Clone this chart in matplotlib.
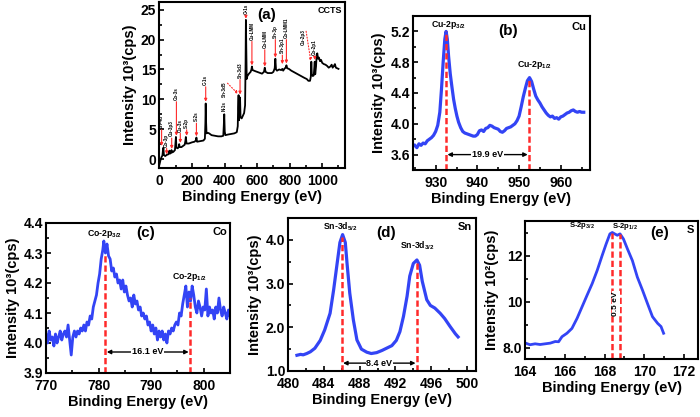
import matplotlib
matplotlib.use('Agg')
import matplotlib.pyplot as plt
import numpy as np
from matplotlib.ticker import AutoMinorLocator, FormatStrFormatter

# ---- data ----
# (a) survey spectrum, binding energy (eV) / intensity (10^3 cps)
survey_e = [0, 6, 12, 18, 21, 24, 27, 35, 45, 55, 58, 61, 64, 70, 74, 77, 85, 95, 98, 101,
            104, 112, 118, 121, 124, 135, 145, 155, 159, 162, 166, 180, 200, 215, 223, 227,
            231, 250, 270, 279, 282, 284, 286, 289, 296, 305, 320, 340, 360, 380, 392, 395,
            398, 401, 405, 420, 440, 460, 475, 481, 483, 486, 489, 492, 495, 498, 505, 512,
            520, 526, 529, 531, 533, 536, 540, 550, 560, 565, 568, 572, 590, 610, 630, 642,
            647, 652, 665, 690, 700, 708, 712, 716, 722, 735, 748, 755, 760, 770, 776, 780,
            785, 795, 810, 830, 850, 870, 890, 905, 915, 925, 930, 933, 936, 942, 948, 952,
            954, 957, 962, 966, 970, 974, 980, 986, 993, 1000, 1010, 1020, 1030, 1040, 1050,
            1058, 1064, 1072, 1078, 1084, 1092, 1100]
survey_i = [-0.9, -0.2, 0.3, 0.6, 1.4, 1.9, 0.7, 0.5, 0.7, 0.8, 1.1, 1.4, 0.9, 1.0, 1.5, 1.1,
            1.2, 1.5, 2.5, 3.7, 1.9, 1.8, 2.0, 2.5, 2.0, 2.0, 2.2, 2.4, 3.0, 3.7, 2.6, 2.6, 2.8,
            2.9, 3.1, 3.6, 2.9, 3.0, 3.1, 3.4, 6.0, 9.3, 6.5, 4.3, 4.4, 4.3, 4.0, 3.9, 3.8, 3.8,
            3.9, 5.5, 7.5, 4.6, 4.0, 4.1, 4.2, 4.3, 4.5, 5.5, 8.5, 10.7, 6.5, 8.0, 10.3, 7.0,
            6.8, 7.2, 7.7, 9.0, 16.0, 23.3, 19.0, 13.4, 13.9, 14.3, 14.6, 15.0, 15.5, 14.9,
            14.7, 14.5, 14.3, 14.6, 15.3, 14.6, 14.4, 14.4, 14.6, 15.2, 16.8, 15.0, 14.8, 15.0,
            14.9, 15.1, 14.8, 15.2, 15.3, 15.7, 15.2, 15.1, 14.8, 14.5, 14.2, 13.9, 13.6, 13.4,
            13.1, 13.1, 13.8, 16.3, 14.2, 13.9, 14.0, 15.5, 16.3, 14.2, 15.5, 17.5, 17.7, 16.8,
            17.0, 16.4, 16.6, 16.1, 15.9, 15.8, 15.6, 15.3, 15.5, 15.8, 15.3, 15.6, 15.9, 15.3,
            15.2, 15.1]

peak_names = ['Sn-4d', 'Co-3p', 'Cu-3p3', 'Co-3s', 'Cu-3s', 'S-2p', 'S-2s', 'C-1s', 'N-1s',
              'Sn-3d5', 'Sn-3d3', 'O-1s', 'Cu-LMM', 'Co-LMM', 'Sn-3p', 'Sn-3p1', 'Co-LMM1',
              'Cu-2p3', 'Co-2p1']
peak_pos = [24, 61, 74, 101, 121, 162, 227, 284, 398, 486, 495, 531, 568, 647, 712, 755, 780,
            933, 954]

# (b) Cu 2p
cu_e = [925.0, 925.5, 926.0, 926.5, 927.0, 927.5, 928.0, 928.5, 929.0, 929.5, 930.0, 930.5,
        931.0, 931.4, 931.8, 932.2, 932.5, 932.8, 933.1, 933.5, 933.9, 934.3, 934.7, 935.1,
        935.5, 936.0, 936.5, 937.0, 937.5, 938.0, 938.5, 939.0, 939.5, 940.0, 940.5, 941.0,
        941.5, 942.0, 942.5, 943.0, 943.5, 944.0, 944.5, 945.0, 945.5, 946.0, 946.5, 947.0,
        947.5, 948.0, 948.5, 949.0, 949.5, 950.0, 950.5, 951.0, 951.5, 952.0, 952.5, 953.0,
        953.5, 954.0, 954.5, 955.0, 955.5, 956.0, 956.5, 957.0, 957.5, 958.0, 958.5, 959.0,
        959.5, 960.0, 960.5, 961.0, 961.5, 962.0, 962.5, 963.0, 963.5, 964.0, 964.5, 965.0,
        965.5]
cu_i = [3.72, 3.69, 3.74, 3.72, 3.75, 3.74, 3.78, 3.80, 3.82, 3.85, 3.90, 3.98, 4.15, 4.45,
        4.80, 5.10, 5.20, 5.10, 4.88, 4.65, 4.48, 4.32, 4.20, 4.10, 4.02, 3.95, 3.90, 3.88,
        3.87, 3.86, 3.85, 3.84, 3.84, 3.86, 3.91, 3.92, 3.90, 3.94, 3.95, 3.98, 3.97, 3.95,
        3.94, 3.93, 3.90, 3.89, 3.91, 3.94, 3.95, 3.96, 3.98, 4.00, 4.04, 4.10, 4.22, 4.35,
        4.46, 4.56, 4.60, 4.55, 4.45, 4.36, 4.31, 4.27, 4.22, 4.18, 4.14, 4.11, 4.09, 4.10,
        4.07, 4.08, 4.06, 4.09, 4.10, 4.12, 4.14, 4.15, 4.17, 4.18, 4.16, 4.15, 4.16, 4.15,
        4.15]
cu_peaks = [932.5, 952.4]

# (c) Co 2p
co_e = [770.0, 770.3, 770.6, 770.9, 771.2, 771.5, 771.8, 772.1, 772.4, 772.7, 773.0, 773.3,
        773.6, 773.9, 774.2, 774.5, 774.8, 775.1, 775.4, 775.7, 776.0, 776.3, 776.6, 776.9,
        777.2, 777.5, 777.8, 778.1, 778.4, 778.7, 779.0, 779.3, 779.6, 779.9, 780.2, 780.5,
        780.8, 781.0, 781.3, 781.6, 781.9, 782.2, 782.5, 782.8, 783.1, 783.4, 783.7, 784.0,
        784.3, 784.6, 784.9, 785.2, 785.5, 785.8, 786.1, 786.4, 786.7, 787.0, 787.3, 787.6,
        787.9, 788.2, 788.5, 788.8, 789.1, 789.4, 789.7, 790.0, 790.3, 790.6, 790.9, 791.2,
        791.5, 791.8, 792.1, 792.4, 792.7, 793.0, 793.3, 793.6, 793.9, 794.2, 794.5, 794.8,
        795.1, 795.4, 795.7, 796.0, 796.3, 796.6, 796.9, 797.2, 797.5, 797.8, 798.1, 798.4,
        798.7, 799.0, 799.3, 799.6, 799.9, 800.2, 800.5, 800.8, 801.1, 801.4, 801.7, 802.0,
        802.3, 802.6, 802.9, 803.2, 803.5, 803.8, 804.1, 804.4, 804.7, 805.0]
co_i = [4.03, 4.00, 4.04, 4.01, 4.02, 3.99, 4.03, 4.00, 4.02, 4.04, 4.01, 4.03, 4.04, 4.02,
        4.06, 4.01, 3.96, 4.02, 4.04, 4.02, 4.04, 4.03, 4.05, 4.04, 4.06, 4.04, 4.07, 4.06,
        4.09, 4.08, 4.12, 4.14, 4.16, 4.20, 4.23, 4.28, 4.31, 4.34, 4.30, 4.33, 4.29, 4.28,
        4.24, 4.25, 4.22, 4.23, 4.20, 4.21, 4.18, 4.21, 4.17, 4.19, 4.16, 4.14, 4.15, 4.12,
        4.16, 4.13, 4.14, 4.11, 4.12, 4.09, 4.10, 4.08, 4.09, 4.06, 4.07, 4.04, 4.06, 4.03,
        4.05, 4.01, 4.04, 4.02, 4.04, 4.01, 4.03, 4.00, 4.04, 4.03, 4.05, 4.04, 4.06, 4.07,
        4.06, 4.10, 4.09, 4.13, 4.16, 4.19, 4.12, 4.17, 4.14, 4.19, 4.16, 4.12, 4.10, 4.14,
        4.12, 4.09, 4.12, 4.11, 4.18, 4.09, 4.12, 4.10, 4.11, 4.08, 4.12, 4.10, 4.15, 4.11,
        4.09, 4.12, 4.10, 4.08, 4.11, 4.09]
co_peaks = [781.3, 797.4]

# (d) Sn 3d
sn_e = [481.0, 481.4, 481.7, 482.1, 482.5, 483.0, 483.6, 484.1, 484.7, 485.1, 485.5, 485.8,
        486.1, 486.4, 486.6, 486.9, 487.3, 487.7, 488.2, 488.8, 489.3, 489.9, 490.5, 491.0,
        491.6, 492.1, 492.5, 492.9, 493.3, 493.6, 494.0, 494.4, 494.7, 495.0, 495.5, 495.9,
        496.4, 497.0, 497.5, 498.1, 498.7, 499.0]
sn_i = [1.36, 1.38, 1.37, 1.40, 1.44, 1.52, 1.70, 1.94, 2.32, 2.86, 3.48, 3.94, 4.12, 3.94,
        3.45, 2.78, 2.17, 1.71, 1.50, 1.43, 1.40, 1.42, 1.47, 1.52, 1.58, 1.70, 1.90, 2.25,
        2.71, 3.17, 3.46, 3.54, 3.42, 3.05, 2.63, 2.50, 2.44, 2.32, 2.20, 2.02, 1.85, 1.78]
sn_peaks = [486.0, 494.4]

# (e) S 2p, intensity in 10^2 cps
s_e = [164.03, 164.25, 164.51, 164.76, 165.01, 165.27, 165.52, 165.69, 165.86, 166.11, 166.36,
       166.62, 166.87, 167.12, 167.38, 167.63, 167.88, 168.08, 168.27, 168.39, 168.51, 168.64,
       168.78, 168.95, 169.15, 169.40, 169.65, 169.91, 170.16, 170.41, 170.67, 170.84, 170.97]
s_i = [8.19, 8.12, 8.16, 8.13, 8.16, 8.19, 8.26, 8.25, 8.47, 8.62, 8.83, 9.27, 9.77, 10.27,
       10.78, 11.35, 12.00, 12.50, 12.94, 13.00, 12.94, 12.88, 12.94, 12.72, 12.29, 11.78,
       11.06, 10.49, 9.91, 9.34, 9.05, 8.91, 8.62]
s_peaks = [168.35, 168.8]

# ---- styling ----
plt.rcParams['font.family'] = ['Liberation Sans', 'DejaVu Sans']
plt.rcParams['font.weight'] = 'bold'
plt.rcParams['axes.labelweight'] = 'bold'
plt.rcParams['mathtext.fontset'] = 'custom'
plt.rcParams['mathtext.rm'] = 'Liberation Sans:bold'
plt.rcParams['mathtext.it'] = 'Liberation Sans:bold'
plt.rcParams['mathtext.bf'] = 'Liberation Sans:bold'

BLUE = '#3344f5'
RED = '#ff2a2a'
W, H = 700, 417

fig = plt.figure(figsize=(7, 4.17), dpi=100)


def add_axes(left, top, right, bottom):
    return fig.add_axes([left / W, 1 - bottom / H, (right - left) / W, (bottom - top) / H])


def style(ax, xticks, yticks, ylabels=None, yfmt=None):
    ax.set_xticks(xticks)
    if ylabels is None:
        ax.set_yticks(yticks)
    else:
        ax.set_yticks(yticks, ylabels)
    if yfmt:
        ax.yaxis.set_major_formatter(FormatStrFormatter(yfmt))
    ax.xaxis.set_minor_locator(AutoMinorLocator(2))
    ax.yaxis.set_minor_locator(AutoMinorLocator(2))
    ax.tick_params(which='both', direction='in', width=1.2, labelsize=10)
    ax.tick_params(axis='x', pad=4)
    ax.tick_params(axis='y', pad=2)
    ax.tick_params(which='major', length=3.5)
    ax.tick_params(which='minor', length=2)
    for sp in ax.spines.values():
        sp.set_linewidth(1.5)
    ax.set_xlabel('Binding Energy (eV)', fontsize=10.5, labelpad=2)


def peak_lines(ax, peaks, xs, ys):
    for p in peaks:
        top = np.interp(p, xs, ys)
        ax.plot([p, p], [ax.get_ylim()[0], top], color=RED, lw=1.8, ls=(0, (2.5, 1.2)))


def gap_arrow(ax, x0, x1, y, text):
    ax.annotate('', xy=(x0, y), xytext=(x1, y),
                arrowprops=dict(arrowstyle='<|-|>', color='black', lw=1, mutation_scale=6,
                                shrinkA=1, shrinkB=1))
    ax.text((x0 + x1) / 2, y, text, fontsize=6.5, ha='center', va='center',
            bbox=dict(facecolor='white', edgecolor='none', pad=0.5))


# (a) survey
ax = add_axes(159, 2, 345, 168)
ax.plot(survey_e, survey_i, color='black', lw=1.3)
ax.set_xlim(-3, 1140)
ax.set_ylim(-1.5, 26.3)
style(ax, [0, 200, 400, 600, 800, 1000], [0, 5, 10, 15, 20, 25])
ax.set_ylabel('Intensity 10³(cps)', fontsize=10.5, labelpad=3)
ax.text(0.58, 0.92, '(a)', transform=ax.transAxes, fontsize=11, ha='center', va='center')
ax.text(0.92, 0.95, 'CCTS', transform=ax.transAxes, fontsize=6.5, ha='center', va='center')

# label layout: (text x, text bottom y, arrow tip y, slanted arrow?)
label_layout = [(13, 5.2, 2.2, False), (44, 2.1, 0.8, False), (75, 3.8, 1.7, False),
                (104, 9.9, 3.9, False), (128, 4.6, 2.7, False), (167, 5.2, 3.9, False),
                (227, 6.3, 3.8, False), (284, 12.4, 9.6, False), (398, 8.0, 7.8, False),
                (400, 10.4, 10.9, True), (495, 13.6, 10.8, False), (531, 24.3, 23.5, False),
                (568, 20.0, 15.7, False), (647, 18.6, 15.5, False), (712, 20.3, 17.0, False),
                (755, 17.7, 15.9, False), (780, 20.3, 16.0, False), (883, 19.1, 16.4, True),
                (954, 17.5, 16.6, False)]
for name, pos, (tx, ty, tip, slanted) in zip(peak_names, peak_pos, label_layout):
    ax.text(tx, ty, name, rotation=90, fontsize=3.3, ha='center', va='bottom')
    if slanted:
        ax.annotate('', xy=(pos - 3, tip), xytext=(tx + 18, ty + 2.3),
                    arrowprops=dict(arrowstyle='-|>', color=RED, lw=0.8, ls=':',
                                    mutation_scale=4, shrinkA=0, shrinkB=0))
    elif ty - 0.3 > tip:
        ax.annotate('', xy=(tx, tip), xytext=(tx, ty - 0.3),
                    arrowprops=dict(arrowstyle='-|>', color=RED, lw=0.8, mutation_scale=4,
                                    shrinkA=0, shrinkB=0))

# (b) Cu
ax = add_axes(412.7, 16, 590, 170)
ax.plot(cu_e, cu_i, color=BLUE, lw=2.3)
ax.set_xlim(924.5, 967)
ax.set_ylim(3.4, 5.4)
style(ax, [930, 940, 950, 960], [3.6, 4.0, 4.4, 4.8, 5.2], yfmt='%.1f')
ax.set_ylabel('Intensity 10³(cps)', fontsize=10.5, labelpad=3)
peak_lines(ax, cu_peaks, cu_e, cu_i)
gap_arrow(ax, cu_peaks[0], cu_peaks[1], 3.6, '19.9 eV')
ax.text(0.2, 0.94, r'Cu-2p$_{3/2}$', transform=ax.transAxes, fontsize=6.3, ha='center', va='center')
ax.text(0.69, 0.68, r'Cu-2p$_{1/2}$', transform=ax.transAxes, fontsize=6.3, ha='center', va='center')
ax.text(0.54, 0.9, '(b)', transform=ax.transAxes, fontsize=11, ha='center', va='center')
ax.text(0.935, 0.93, 'Cu', transform=ax.transAxes, fontsize=8, ha='center', va='center')

# (c) Co
ax = add_axes(46, 223, 230, 373)
ax.plot(co_e, co_i, color=BLUE, lw=2.0)
ax.set_xlim(770, 805)
ax.set_ylim(3.9, 4.4)
style(ax, [770, 780, 790, 800], [3.9, 4.0, 4.1, 4.2, 4.3, 4.4], yfmt='%.1f')
ax.set_ylabel('Intensity 10³(cps)', fontsize=10.5, labelpad=3)
peak_lines(ax, co_peaks, co_e, co_i)
gap_arrow(ax, co_peaks[0], co_peaks[1], 3.97, '16.1 eV')
ax.text(0.32, 0.93, r'Co-2p$_{3/2}$', transform=ax.transAxes, fontsize=6.3, ha='center', va='center')
ax.text(0.78, 0.64, r'Co-2p$_{1/2}$', transform=ax.transAxes, fontsize=6.3, ha='center', va='center')
ax.text(0.54, 0.93, '(c)', transform=ax.transAxes, fontsize=11, ha='center', va='center')
ax.text(0.945, 0.94, 'Co', transform=ax.transAxes, fontsize=8, ha='center', va='center')

# (d) Sn
ax = add_axes(288, 218, 476, 371)
ax.plot(sn_e, sn_i, color=BLUE, lw=2.3)
ax.set_xlim(480, 501)
ax.set_ylim(1.0, 4.5)
style(ax, [480, 484, 488, 492, 496, 500], [1.0, 2.0, 3.0, 4.0], yfmt='%.1f')
ax.set_ylabel('Intensity 10³(cps)', fontsize=10.5, labelpad=3)
peak_lines(ax, sn_peaks, sn_e, sn_i)
gap_arrow(ax, sn_peaks[0], sn_peaks[1], 1.18, '8.4 eV')
ax.text(0.28, 0.94, r'Sn-3d$_{5/2}$', transform=ax.transAxes, fontsize=6.3, ha='center', va='center')
ax.text(0.69, 0.82, r'Sn-3d$_{3/2}$', transform=ax.transAxes, fontsize=6.3, ha='center', va='center')
ax.text(0.52, 0.9, '(d)', transform=ax.transAxes, fontsize=11, ha='center', va='center')
ax.text(0.94, 0.94, 'Sn', transform=ax.transAxes, fontsize=8, ha='center', va='center')

# (e) S
ax = add_axes(525, 221, 698, 359)
ax.plot(s_e, s_i, color=BLUE, lw=2.0)
ax.set_xlim(164, 172.7)
ax.set_ylim(7.5, 13.5)
style(ax, [164, 166, 168, 170, 172], [8, 10, 12], ['8.0', '10', '12'])
ax.set_ylabel('Intensity 10²(cps)', fontsize=10.5, labelpad=3)
peak_lines(ax, s_peaks, s_e, s_i)
ax.text(sum(s_peaks) / 2, 9.9, '0.5 eV', rotation=90, fontsize=6, ha='center', va='center',
        bbox=dict(facecolor='white', edgecolor='none', pad=0.3))
ax.text(0.405, 0.965, r'S-2p$_{3/2}$', transform=ax.transAxes, fontsize=5.5, ha='right', va='center')
ax.text(0.5, 0.96, r'S-2p$_{1/2}$', transform=ax.transAxes, fontsize=5.5, ha='left', va='center')
ax.text(0.78, 0.91, '(e)', transform=ax.transAxes, fontsize=11, ha='center', va='center')
ax.text(0.955, 0.935, 'S', transform=ax.transAxes, fontsize=8, ha='center', va='center')

fig.savefig('out.png', dpi=100)
